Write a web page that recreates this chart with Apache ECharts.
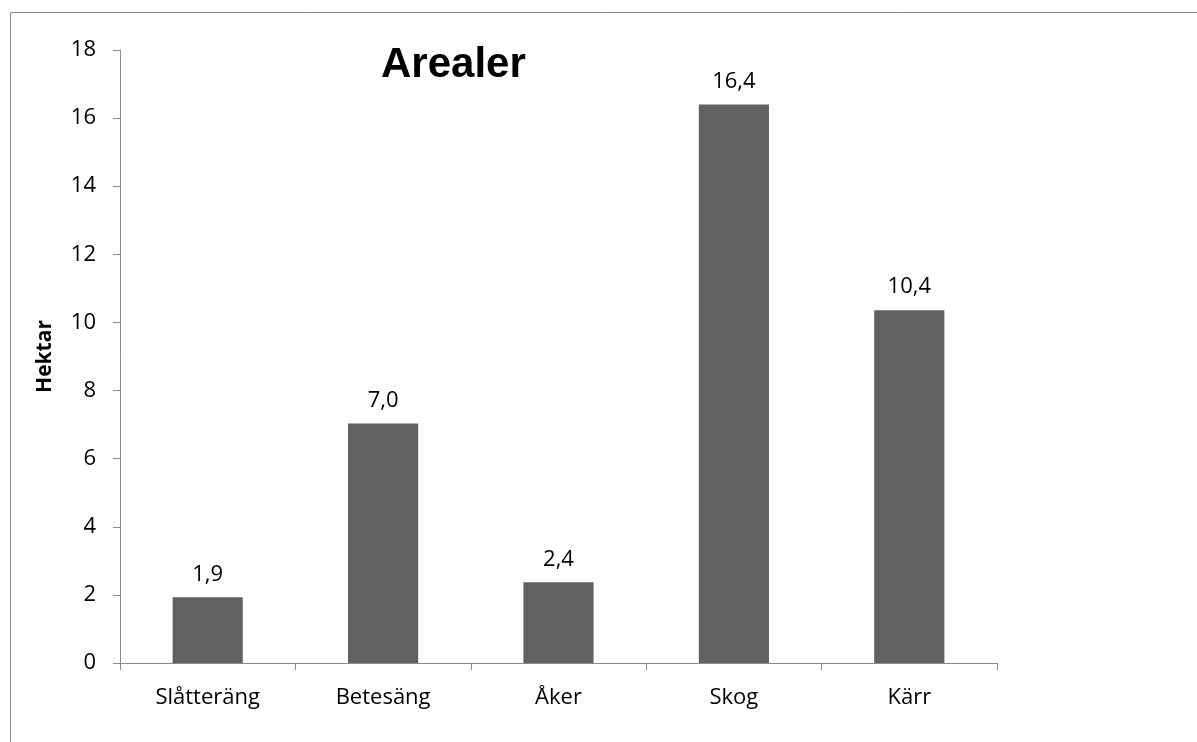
<!DOCTYPE html>
<html>
<head>
<meta charset="utf-8">
<script src="https://cdn.jsdelivr.net/npm/echarts@6/dist/echarts.min.js"></script>
<style>
html,body{margin:0;padding:0;background:#fff;}
#chart{width:1197px;height:742px;}
</style>
</head>
<body>
<div id="chart"></div>
<script>
const categories = ['Slåtteräng', 'Betesäng', 'Åker', 'Skog', 'Kärr'];
const hektar = [1.93, 7.03, 2.37, 16.40, 10.36];
const yTicks = [0, 2, 4, 6, 8, 10, 12, 14, 16, 18];
const titleText = 'Arealer';
const yAxisName = 'Hektar';

const FONT = '"Open Sans", "Liberation Sans", Arial, sans-serif';
const TITLE_FONT = '"Liberation Sans", Arial, sans-serif';
const chart = echarts.init(document.getElementById('chart'), null, {renderer: 'canvas'});
chart.setOption({
  animation: false,
  backgroundColor: '#fff',
  graphic: [{
    type: 'rect',
    shape: {x: 10.5, y: 12.5, width: 1300, height: 800},
    style: {fill: 'none', stroke: '#8a8a8a', lineWidth: 1},
    silent: true
  }],
  title: {
    text: titleText,
    left: 376,
    top: 39,
    textStyle: {fontFamily: TITLE_FONT, fontWeight: 'bold', fontSize: 42, color: '#000'}
  },
  grid: {left: 120, right: 200, top: 50, bottom: 79, containLabel: false},
  xAxis: {
    type: 'category',
    data: categories,
    boundaryGap: true,
    axisLine: {lineStyle: {color: '#8a8a8a', width: 1}},
    axisTick: {show: true, alignWithLabel: false, length: 7, lineStyle: {color: '#8a8a8a'}},
    axisLabel: {fontFamily: FONT, fontSize: 22, color: '#000', margin: 24},
    splitLine: {show: false}
  },
  yAxis: {
    type: 'value',
    min: yTicks[0],
    max: yTicks[yTicks.length - 1],
    interval: yTicks[1] - yTicks[0],
    name: yAxisName,
    nameLocation: 'middle',
    nameGap: 64,
    nameTextStyle: {fontFamily: FONT, fontWeight: 'bold', fontSize: 21, color: '#000'},
    axisLine: {show: true, lineStyle: {color: '#8a8a8a', width: 1}},
    axisTick: {show: true, length: 7, lineStyle: {color: '#8a8a8a'}},
    axisLabel: {fontFamily: FONT, fontSize: 22, color: '#000', margin: 24},
    splitLine: {show: false}
  },
  series: [{
    type: 'bar',
    data: hektar,
    barWidth: '40%',
    itemStyle: {color: '#616161'},
    label: {
      show: true,
      position: 'top',
      distance: 12,
      fontFamily: FONT,
      fontSize: 22,
      color: '#000',
      formatter: p => p.value.toFixed(1).replace('.', ',')
    }
  }]
});
</script>
</body>
</html>
